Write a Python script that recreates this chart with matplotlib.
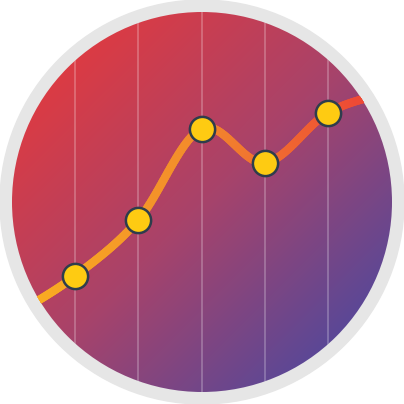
import numpy as np
import matplotlib
matplotlib.use("Agg")
import matplotlib.pyplot as plt
from matplotlib.patches import Circle
from matplotlib.collections import LineCollection
from matplotlib.colors import LinearSegmentedColormap

# series: index 0 and 6 are the run-in / run-out beyond the circle
steps = [0, 1, 2, 3, 4, 5, 6]
values = [21.8, 32.0, 46.0, 68.8, 60.3, 72.8, 78.3]
marked = [1, 2, 3, 4, 5]
grid_x = [1, 2, 3, 4, 5]

bg_colors = ["#f03834", "#a8436a", "#3c4aa8"]
line_colors = ["#f9ab22", "#f28a2c", "#ee4a35"]


def catmull_rom(x, y, n=40):
    x = np.asarray(x, float)
    y = np.asarray(y, float)
    px = np.r_[2 * x[0] - x[1], x, 2 * x[-1] - x[-2]]
    py = np.r_[2 * y[0] - y[1], y, 2 * y[-1] - y[-2]]
    xs, ys = [], []
    t = np.linspace(0, 1, n, endpoint=False)
    for i in range(1, len(px) - 2):
        for p, out in ((px, xs), (py, ys)):
            p0, p1, p2, p3 = p[i - 1], p[i], p[i + 1], p[i + 2]
            out.append(0.5 * (2 * p1 + (-p0 + p2) * t + (2 * p0 - 5 * p1 + 4 * p2 - p3) * t ** 2
                              + (-p0 + 3 * p1 - 3 * p2 + p3) * t ** 3))
    xs = np.concatenate(xs + [[x[-1]]])
    ys = np.concatenate(ys + [[y[-1]]])
    return xs, ys


fig = plt.figure(figsize=(4.04, 4.04), dpi=100)

# background: ring + gradient disc
bg = fig.add_axes([0, 0, 1, 1])
bg.set_xlim(0, 1)
bg.set_ylim(0, 1)
bg.axis("off")
bg.add_patch(Circle((0.5, 0.5), 0.5, color="#e6e6e6", zorder=0))
clip = Circle((0.5, 0.5), 190 / 404, transform=fig.transFigure, facecolor="none", edgecolor="none")
bg.add_patch(clip)

gx, gy = np.meshgrid(np.linspace(0, 1, 400), np.linspace(0, 1, 400))
lo, hi = 12 / 404, 392 / 404
tt = np.clip(((gx - lo) + (gy - lo)) / (2 * (hi - lo)), 0, 1)
cmap = LinearSegmentedColormap.from_list("bg", bg_colors)
img = bg.imshow(tt, cmap=cmap, extent=(0, 1, 0, 1), origin="upper", vmin=0, vmax=1,
                interpolation="bilinear", zorder=1, aspect="auto")
img.set_clip_path(clip)

# data axes
ax = fig.add_axes([0, 0, 1, 1])
ax.patch.set_visible(False)
ax.axis("off")
ax.set_xlim(-11.75 / 63.25, (404 - 11.75) / 63.25)
ax.set_ylim(0, 101)

for gxv in grid_x:
    ln = ax.axvline(gxv, color="white", alpha=0.25, lw=1.3, zorder=2)
    ln.set_clip_path(clip)

sx, sy = catmull_rom(steps, values)
pts = np.column_stack([sx, sy]).reshape(-1, 1, 2)
segs = np.concatenate([pts[:-1], pts[1:]], axis=1)
lcmap = LinearSegmentedColormap.from_list("ln", line_colors)
lc = LineCollection(segs, cmap=lcmap, linewidths=6, capstyle="round", zorder=3)
lc.set_array((sx[:-1] + sx[1:]) / 2)
lc.set_clim(0.5, 5.5)
ax.add_collection(lc)
lc.set_clip_path(clip)

mx = [steps[i] for i in marked]
my = [values[i] for i in marked]
ax.scatter(mx, my, s=330, color="#fecb12", edgecolors="#2e3d4c", linewidths=1.8, zorder=4)

fig.savefig("out.png", dpi=100)
